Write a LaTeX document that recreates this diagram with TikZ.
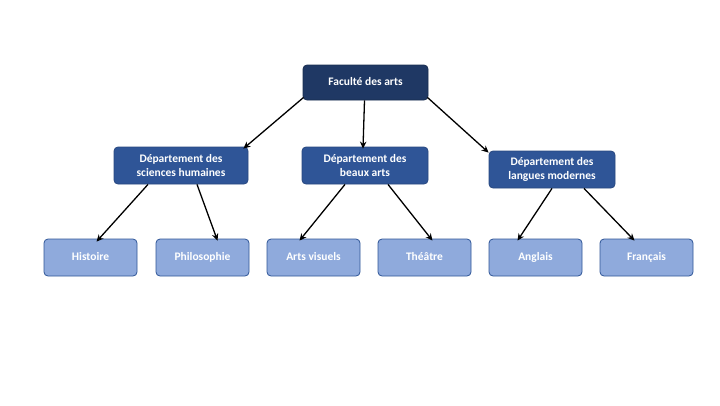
\documentclass[tikz,border=0pt]{standalone}
\usepackage{fontspec}
\setmainfont{Carlito}
\usetikzlibrary{arrows.meta}
\definecolor{topc}{HTML}{1F3864}
\definecolor{deptc}{HTML}{2F5597}
\definecolor{leafc}{HTML}{8FAADC}
\definecolor{leafb}{HTML}{2F5597}
\tikzset{
  box/.style={rectangle, rounded corners=4pt, text=white, font=\bfseries\fontsize{11.5}{14.5}\selectfont, align=center, inner sep=0pt, line width=0.8pt},
  oneline/.style={text height=8.5pt, text depth=2.5pt},
  topbox/.style={box, oneline, fill=topc, draw=topc!80!black, minimum width=125pt, minimum height=35pt},
  deptbox/.style={box, fill=deptc, draw=deptc!85!black, minimum width=134pt, minimum height=37pt},
  deptbox2/.style={box, fill=deptc, draw=deptc!85!black, minimum width=126pt, minimum height=37pt},
  leafbox/.style={box, oneline, fill=leafc, draw=leafb, minimum width=93pt, minimum height=37pt},
  conn/.style={line width=1.3pt, -{Stealth[length=7pt,width=6.5pt]}}
}
\begin{document}
\begin{tikzpicture}[x=1pt,y=-1pt]
\useasboundingbox (0,0) rectangle (720,405);
\node[topbox] (top) at (365.5,82.5) {Faculté des arts};
\node[deptbox] (d1) at (181,165.5) {Département des\\sciences humaines};
\node[deptbox2] (d2) at (365,165.5) {Département des\\beaux arts};
\node[deptbox2] (d3) at (552,169.5) {Département des\\langues modernes};
\node[leafbox] (l1) at (90.5,257.5) {Histoire};
\node[leafbox] (l2) at (202.5,257.5) {Philosophie};
\node[leafbox] (l3) at (313.5,257.5) {Arts visuels};
\node[leafbox] (l4) at (424.5,257.5) {Théâtre};
\node[leafbox] (l5) at (535.5,257.5) {Anglais};
\node[leafbox] (l6) at (646.5,257.5) {Français};
\draw[conn] ([shift={(1,-3)}]top.south west) -- ([shift={(-5,2)}]d1.north east);
\draw[conn] ([xshift=-1]top.south) -- ([xshift=-2,yshift=-2]d2.north);
\draw[conn] ([shift={(-1,-3)}]top.south east) -- ([shift={(0,2)}]d3.north west);
\draw[conn] ([xshift=-33]d1.south) -- ([xshift=6,yshift=-3]l1.north);
\draw[conn] ([xshift=16]d1.south) -- ([xshift=15,yshift=-2]l2.north);
\draw[conn] ([xshift=-20]d2.south) -- ([xshift=-14,yshift=-2]l3.north);
\draw[conn] ([xshift=23]d2.south) -- ([xshift=8,yshift=-2]l4.north);
\draw[conn] ([xshift=0]d3.south) -- ([xshift=-18,yshift=-2]l5.north);
\draw[conn] ([xshift=32]d3.south) -- ([xshift=-12,yshift=-2]l6.north);
\end{tikzpicture}
\end{document}
